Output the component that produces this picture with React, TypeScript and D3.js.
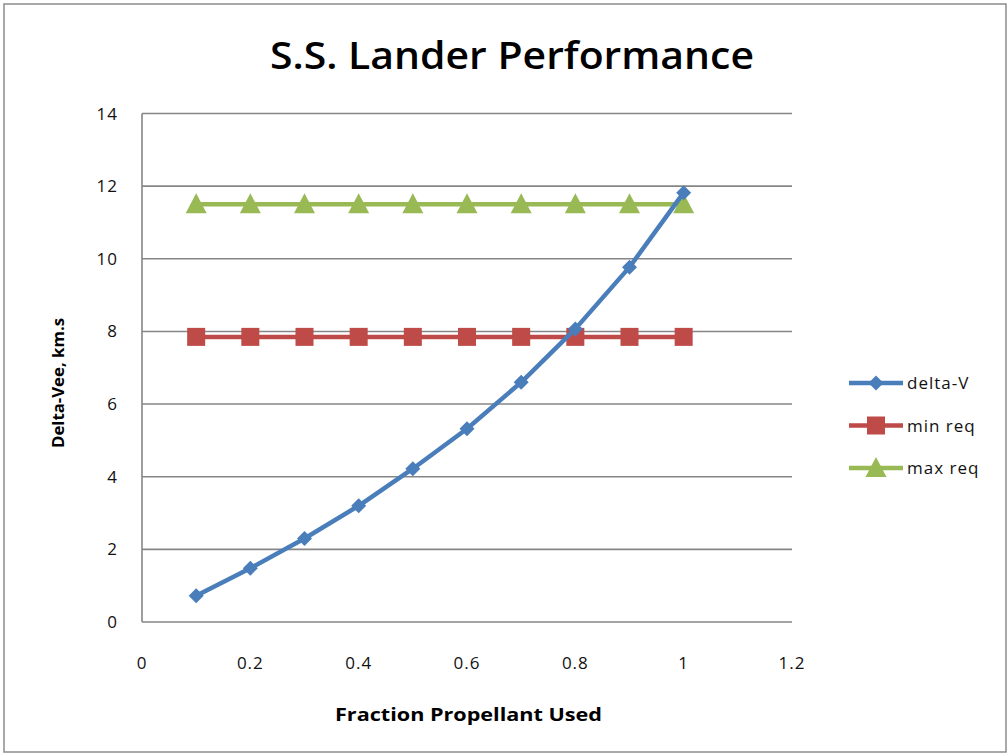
import React from "react";
import * as d3 from "d3";

const fractions = [0.1, 0.2, 0.3, 0.4, 0.5, 0.6, 0.7, 0.8, 0.9, 1.0];
const deltaV = [0.72, 1.48, 2.3, 3.2, 4.22, 5.32, 6.6, 8.07, 9.77, 11.82];
const minReq = [7.85, 7.85, 7.85, 7.85, 7.85, 7.85, 7.85, 7.85, 7.85, 7.85];
const maxReq = [11.5, 11.5, 11.5, 11.5, 11.5, 11.5, 11.5, 11.5, 11.5, 11.5];
const xTicks = [0, 0.2, 0.4, 0.6, 0.8, 1, 1.2];
const yTicks = [0, 2, 4, 6, 8, 10, 12, 14];
const seriesNames = ["delta-V", "min req", "max req"];
const seriesColors = ["#4a7ebb", "#be4b48", "#98b954"];

const W = 1008;
const H = 754;
const FONT = "'Open Sans', 'Liberation Sans', sans-serif";

export default function App() {
  const x = d3.scaleLinear().domain([0, 1.2]).range([142, 792]);
  const y = d3.scaleLinear().domain([0, 14]).range([622, 113.5]);
  const series = [deltaV, minReq, maxReq];
  const line = d3
    .line<[number, number]>()
    .x((d) => x(d[0]))
    .y((d) => y(d[1]));

  const marker = (k: number, cx: number, cy: number, key: string) => {
    const c = seriesColors[k];
    if (k === 0) {
      const s = 7.5;
      return (
        <path
          key={key}
          d={`M${cx},${cy - s}L${cx + s},${cy}L${cx},${cy + s}L${cx - s},${cy}Z`}
          fill={c}
        />
      );
    }
    if (k === 1) {
      return <rect key={key} x={cx - 9} y={cy - 9} width={18} height={18} fill={c} />;
    }
    return (
      <path
        key={key}
        d={`M${cx},${cy - 11}L${cx + 10.5},${cy + 9}L${cx - 10.5},${cy + 9}Z`}
        fill={c}
      />
    );
  };

  return (
    <svg
      width={W}
      height={H}
      style={{ position: "absolute", left: 0, top: 0 }}
      fontFamily={FONT}
    >
      <rect x={0} y={0} width={W} height={H} fill="#fff" />
      <rect x={4} y={4} width={W - 6} height={H - 6} fill="none" stroke="#8c8c8c" strokeWidth={1.5} />
      <text
        x={512}
        y={69}
        textAnchor="middle"
        fontSize={38}
        fontWeight={600}
        textLength={484}
        lengthAdjust="spacingAndGlyphs"
        fill="#000"
      >
        S.S. Lander Performance
      </text>

      {yTicks.map((t) => (
        <g key={"y" + t}>
          <line x1={142} x2={792} y1={y(t)} y2={y(t)} stroke="#868686" strokeWidth={1.6} />
          <text
            x={118}
            y={y(t) + 6}
            textAnchor="end"
            fontSize={17}
            letterSpacing={1}
            fill="#111"
          >
            {t}
          </text>
        </g>
      ))}
      <line x1={142} x2={142} y1={y(14)} y2={y(0)} stroke="#868686" strokeWidth={1.6} />
      {xTicks.map((t) => (
        <text
          key={"x" + t}
          x={x(t)}
          y={669}
          textAnchor="middle"
          fontSize={17}
          letterSpacing={1}
          fill="#111"
        >
          {t}
        </text>
      ))}

      <text
        x={468.5}
        y={721}
        textAnchor="middle"
        fontSize={18}
        fontWeight="bold"
        textLength={267}
        lengthAdjust="spacingAndGlyphs"
        fill="#000"
      >
        Fraction Propellant Used
      </text>
      <text
        transform={`translate(64,383) rotate(-90)`}
        textAnchor="middle"
        fontSize={16}
        fontWeight="bold"
        textLength={130}
        lengthAdjust="spacingAndGlyphs"
        fill="#000"
      >
        Delta-Vee, km.s
      </text>

      {[2, 1, 0].map((k) => (
        <g key={"s" + k}>
          <path
            d={line(fractions.map((f, i) => [f, series[k][i]] as [number, number])) || ""}
            fill="none"
            stroke={seriesColors[k]}
            strokeWidth={4.5}
            strokeLinejoin="round"
          />
          {fractions.map((f, i) => marker(k, x(f), y(series[k][i]), `m${k}-${i}`))}
        </g>
      ))}

      {seriesNames.map((n, k) => {
        const ly = 383 + k * 42.5;
        return (
          <g key={"l" + k}>
            <line x1={849} x2={903} y1={ly} y2={ly} stroke={seriesColors[k]} strokeWidth={4.5} />
            {marker(k, 876, ly, "lm" + k)}
            <text x={907} y={ly + 6} fontSize={17} letterSpacing={1} fill="#111">
              {n}
            </text>
          </g>
        );
      })}
    </svg>
  );
}
